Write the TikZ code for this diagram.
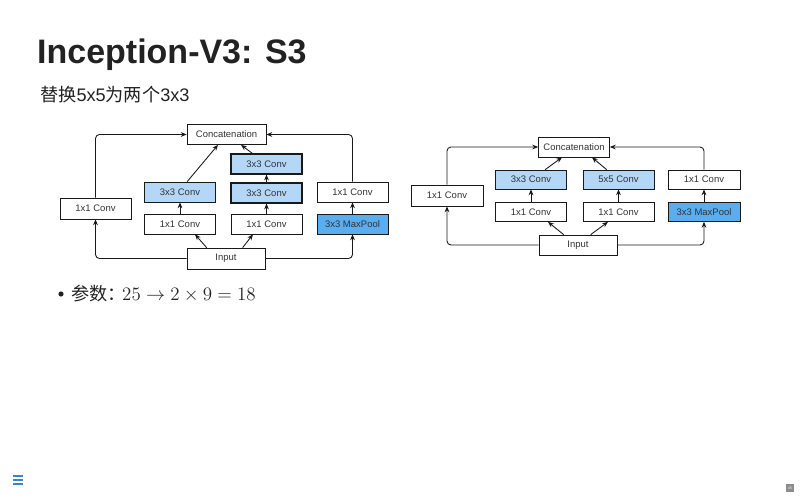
\RequirePackage{fix-cm}
\documentclass[tikz,border=0pt]{standalone}
\usepackage{fontspec}
\setmainfont{Liberation Sans}
\newfontfamily\cjk{Noto Sans CJK SC}
\usetikzlibrary{calc, positioning}
\usetikzlibrary{arrows.meta}

\definecolor{lightblue}{HTML}{B4D7F7}
\definecolor{darkblue}{HTML}{5AAEF0}
\definecolor{menublue}{HTML}{3B82D0}
\definecolor{titlegray}{HTML}{222222}

\begin{document}
\begin{tikzpicture}[x=0.03cm, y=-0.03cm,
    box/.style={draw=black!90, line width=0.6pt, fill=white, inner sep=0pt,
        minimum width=2.13cm, minimum height=0.6cm, font=\fontsize{8.1}{9}\selectfont, text=black!80},
    lbox/.style={box, fill=lightblue},
    dbox/.style={box, fill=darkblue},
    arr/.style={-{Stealth[length=5pt,width=4pt]}, line width=0.75pt, black!90},
    elbow/.style={arr, rounded corners=0.12cm}]
    \useasboundingbox (0,0) rectangle (800,500);

    % title and text
    \node[anchor=base west, inner sep=0pt, text=titlegray,
        font=\fontsize{29}{32}\bfseries\selectfont] (title) at (37,63) {Inception-V3: S3};
    \node[anchor=base west, inner sep=0pt, text=titlegray,
        font=\fontsize{15.5}{18}\selectfont] (sub) at (40,101) {{\cjk 替换}5x5{\cjk 为两个}3x3};
    \fill[titlegray] (61,294) circle (2.6);
    \node[anchor=base west, inner sep=0pt, text=titlegray,
        font=\fontsize{15.5}{19}\selectfont] (param) at (71,300) {\cjk 参数：};
    \node[anchor=base west, inner sep=0pt, text=titlegray,
        font=\fontsize{16.2}{19}\selectfont] (eq) at (122,300) {$25\rightarrow2\times9=18$};

    % left diagram
    \node[box, minimum width=2.37cm] (cat) at (226.5,134.5) {Concatenation};
    \node[box, minimum width=2.13cm, minimum height=0.63cm] (c1) at (95.5,208.5) {1x1 Conv};
    \node[box] (a1) at (180,224) {1x1 Conv};
    \node[lbox] (a2) at (180,192) {3x3 Conv};
    \node[box] (b1) at (266.5,224) {1x1 Conv};
    \node[lbox, line width=0.9pt] (b2) at (266.5,193) {3x3 Conv};
    \node[lbox, line width=0.9pt] (b3) at (266.5,164) {3x3 Conv};
    \node[dbox] (m1) at (352.5,224) {3x3 MaxPool};
    \node[box] (m2) at (352.5,192) {1x1 Conv};
    \node[box, minimum width=2.34cm, minimum height=0.63cm] (inp) at (226,258.5) {Input};

    \draw[elbow] (inp.west) -| (c1.south);
    \draw[elbow] (c1.north) |- (cat.west);
    \draw[arr] ($(inp.north west)+(20,0)$) -- ($(a1.south)+(15,0)$);
    \draw[arr] ($(inp.north west)+(56,0)$) -- ($(b1.south)+(-13.5,0)$);
    \draw[arr] (a1) -- (a2);
    \draw[arr] ($(a2.north west)+(43,0)$) -- ($(cat.south)+(-8.5,0)$);
    \draw[arr] (b1) -- (b2);
    \draw[arr] (b2) -- (b3);
    \draw[arr] ($(b3.north west)+(22,0)$) -- ($(cat.south)+(14.5,0)$);
    \draw[elbow] (inp.east) -| (m1.south);
    \draw[arr] (m1) -- (m2);
    \draw[elbow] (m2.north) |- (cat.east);

    % right diagram
    \node[box] (cat2) at (574,147) {Concatenation};
    \node[box, minimum width=2.16cm, minimum height=0.63cm] (d1) at (447,195.5) {1x1 Conv};
    \node[box, minimum height=0.57cm] (p1) at (531,212) {1x1 Conv};
    \node[lbox, minimum height=0.57cm] (p2) at (531,179.5) {3x3 Conv};
    \node[box, minimum height=0.57cm] (q1) at (618.5,212) {1x1 Conv};
    \node[lbox, minimum height=0.57cm] (q2) at (618.5,179.5) {5x5 Conv};
    \node[dbox, minimum width=2.16cm, minimum height=0.57cm] (n1) at (704,212) {3x3 MaxPool};
    \node[box, minimum width=2.16cm, minimum height=0.57cm] (n2) at (704,179.5) {1x1 Conv};
    \node[box, minimum width=2.34cm] (inp2) at (578,245) {Input};

    \draw[elbow] (inp2.west) -| (d1.south);
    \draw[elbow] (d1.north) |- (cat2.west);
    \draw[arr] ($(inp2.north west)+(25,0)$) -- ($(p1.south)+(17,0)$);
    \draw[arr] ($(inp2.north west)+(52,0)$) -- ($(q1.south)+(-10.5,0)$);
    \draw[arr] (p1) -- (p2);
    \draw[arr] (q1) -- (q2);
    \draw[arr] ($(p2.north west)+(50,0)$) -- ($(cat2.south)+(-12,0)$);
    \draw[arr] ($(q2.north west)+(24,0)$) -- ($(cat2.south)+(18,0)$);
    \draw[elbow] (inp2.east) -| (n1.south);
    \draw[arr] (n1) -- (n2);
    \draw[elbow] (n2.north) |- (cat2.east);

    % footer
    \foreach \y in {476,480,484}
        \draw[menublue, line width=1.1pt] (13,\y) -- (23,\y);
    \node[fill=black!45, inner sep=0pt, minimum width=0.24cm, minimum height=0.24cm,
        text=white, font=\fontsize{3}{3}\selectfont] (page) at (790,488) {45};
\end{tikzpicture}
\end{document}
